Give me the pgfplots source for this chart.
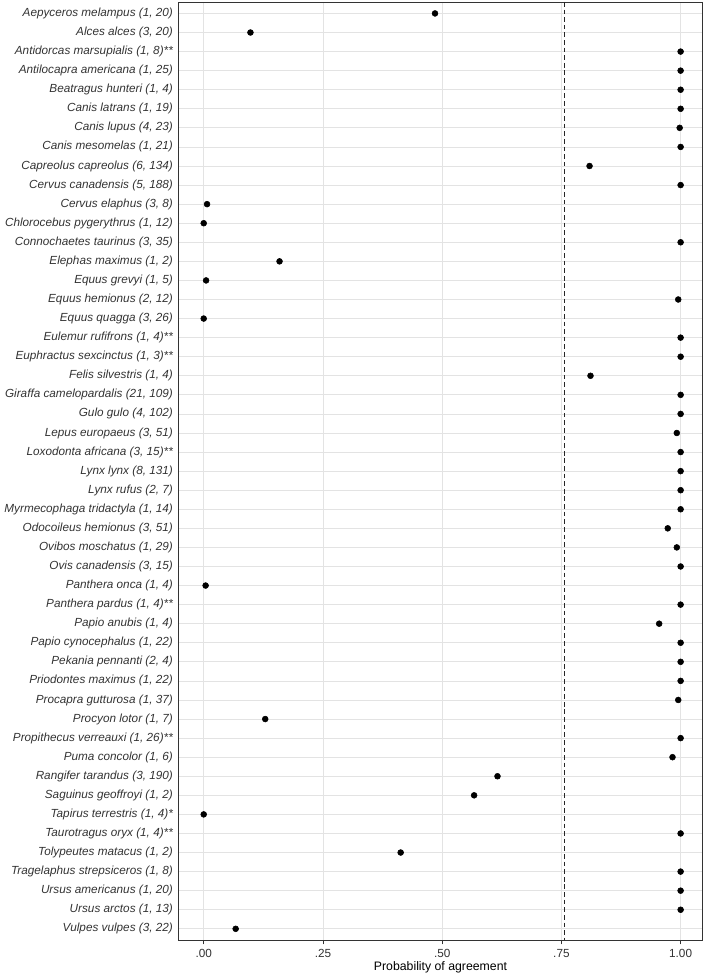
\documentclass[border=0pt]{standalone}
\usepackage{fontspec}
\setmainfont{Liberation Sans}
\usepackage{pgfplots}
\pgfplotsset{compat=1.18}

\begin{document}
\begin{tikzpicture}
\begin{axis}[
    name=ax,
    scale only axis,
    width=392pt, height=703pt,
    xmin=-0.052, xmax=1.045,
    ymin=0.4, ymax=49.6,
    y dir=reverse,
    xtick={0,0.25,0.5,0.75,1},
    xticklabels={.00,.25,.50,.75,1.00},
    ytick={1,...,49},
    yticklabels={
        {Aepyceros melampus (1, 20)},
        {Alces alces (3, 20)},
        {Antidorcas marsupialis (1, 8)**},
        {Antilocapra americana (1, 25)},
        {Beatragus hunteri (1, 4)},
        {Canis latrans (1, 19)},
        {Canis lupus (4, 23)},
        {Canis mesomelas (1, 21)},
        {Capreolus capreolus (6, 134)},
        {Cervus canadensis (5, 188)},
        {Cervus elaphus (3, 8)},
        {Chlorocebus pygerythrus (1, 12)},
        {Connochaetes taurinus (3, 35)},
        {Elephas maximus (1, 2)},
        {Equus grevyi (1, 5)},
        {Equus hemionus (2, 12)},
        {Equus quagga (3, 26)},
        {Eulemur rufifrons (1, 4)**},
        {Euphractus sexcinctus (1, 3)**},
        {Felis silvestris (1, 4)},
        {Giraffa camelopardalis (21, 109)},
        {Gulo gulo (4, 102)},
        {Lepus europaeus (3, 51)},
        {Loxodonta africana (3, 15)**},
        {Lynx lynx (8, 131)},
        {Lynx rufus (2, 7)},
        {Myrmecophaga tridactyla (1, 14)},
        {Odocoileus hemionus (3, 51)},
        {Ovibos moschatus (1, 29)},
        {Ovis canadensis (3, 15)},
        {Panthera onca (1, 4)},
        {Panthera pardus (1, 4)**},
        {Papio anubis (1, 4)},
        {Papio cynocephalus (1, 22)},
        {Pekania pennanti (2, 4)},
        {Priodontes maximus (1, 22)},
        {Procapra gutturosa (1, 37)},
        {Procyon lotor (1, 7)},
        {Propithecus verreauxi (1, 26)**},
        {Puma concolor (1, 6)},
        {Rangifer tarandus (3, 190)},
        {Saguinus geoffroyi (1, 2)},
        {Tapirus terrestris (1, 4)*},
        {Taurotragus oryx (1, 4)**},
        {Tolypeutes matacus (1, 2)},
        {Tragelaphus strepsiceros (1, 8)},
        {Ursus americanus (1, 20)},
        {Ursus arctos (1, 13)},
        {Vulpes vulpes (3, 22)}
    },
    yticklabel style={font=\itshape\fontsize{8.8}{10}\selectfont, text=black!80, xshift=2pt},
    xticklabel style={font=\fontsize{8.8}{10}\selectfont, text=black!80},
    /pgf/number format/assume math mode=true,
    xlabel={Probability of agreement},
    xlabel style={font=\fontsize{9.2}{11}\selectfont, yshift=4pt},
    grid=major,
    major grid style={black!11, line width=0.6pt},
    axis line style={black!80, line width=0.7pt},
    tick align=outside,
    major tick length=3pt,
    x tick style={black!80, line width=0.6pt},
    y tick style={draw=none},
    xtick pos=bottom,
    ytick pos=left,
]
\addplot[black!85, dash pattern=on 3.5pt off 2.2pt, line width=0.6pt] coordinates {(0.756,0.4) (0.756,49.6)};
\addplot[only marks, mark=*, mark size=2.2pt, black] coordinates {
    (0.485,1) (0.098,2) (1.0,3) (1.0,4) (1.0,5) (1.0,6) (0.998,7)
    (1.0,8) (0.809,9) (1.0,10) (0.007,11) (0.0,12) (1.0,13) (0.159,14)
    (0.005,15) (0.995,16) (0.0,17) (1.0,18) (1.0,19) (0.811,20) (1.0,21)
    (1.0,22) (0.992,23) (1.0,24) (1.0,25) (1.0,26) (1.0,27) (0.973,28)
    (0.992,29) (1.0,30) (0.004,31) (1.0,32) (0.955,33) (1.0,34) (1.0,35)
    (1.0,36) (0.995,37) (0.129,38) (1.0,39) (0.983,40) (0.616,41) (0.567,42)
    (0.0,43) (1.0,44) (0.413,45) (1.0,46) (1.0,47) (1.0,48) (0.067,49)
};
\end{axis}
\path (ax.north east) ++(5pt,1.5pt) coordinate (m);
\end{tikzpicture}
\end{document}
